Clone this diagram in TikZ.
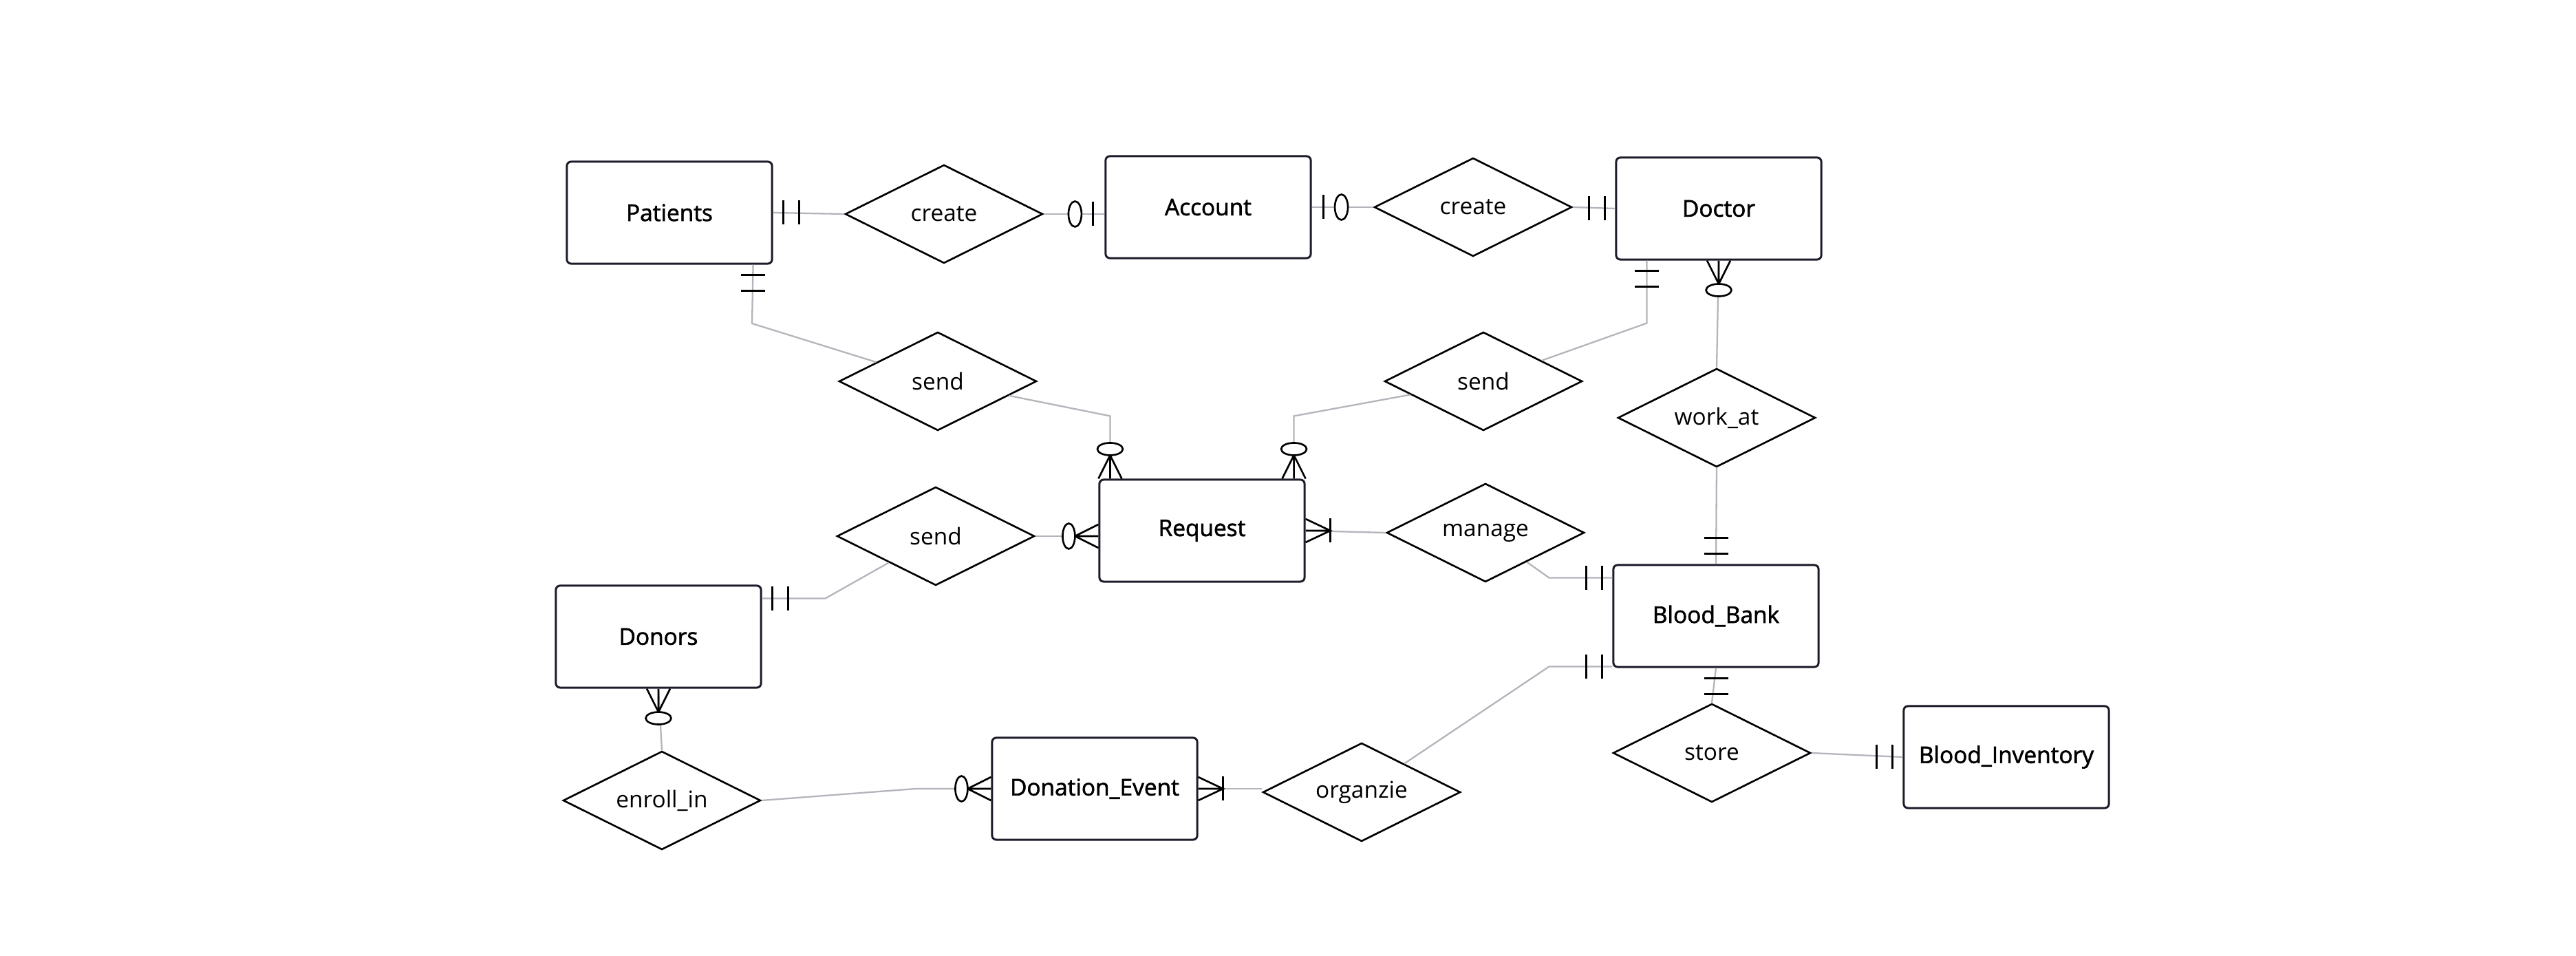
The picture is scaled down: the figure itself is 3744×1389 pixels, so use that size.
\documentclass[tikz,border=0pt]{standalone}
\usepackage{fontspec}
\setmainfont{Open Sans}
\newfontfamily\entityfont{Open Sans}[FakeBold=1.8]
\usetikzlibrary{shapes.geometric}
\usetikzlibrary{calc}

\definecolor{linkGray}{RGB}{180,180,188}
\definecolor{boxInk}{RGB}{28,28,42}

\tikzset{
  markStyle/.style={draw=black, line width=1.05pt},
  thinMark/.style={draw=black, line width=0.75pt},
  pics/oneOnly/.style={code={
    \draw[markStyle] (15,-17.5) -- (15,17.5);
    \draw[markStyle] (38,-17.5) -- (38,17.5);
  }},
  pics/zeroOne/.style={code={
    \draw[markStyle] (17,-17.5) -- (17,17.5);
    \draw[thinMark, fill=white] (43,0) ellipse [x radius=9.5, y radius=18.5];
  }},
  pics/zeroMany/.style={code={
    \draw[thinMark] (0,-17) -- (34,0) -- (0,17) (0,0) -- (34,0);
    \draw[thinMark, fill=white] (43,0) ellipse [x radius=9, y radius=18.5];
  }},
  pics/oneMany/.style={code={
    \draw[thinMark] (0,-17) -- (36,0) -- (0,17) (0,0) -- (36,0);
    \draw[markStyle] (36,-17.5) -- (36,17.5);
  }},
}

\begin{document}
\begin{tikzpicture}[x=0.01cm, y=-0.01cm]
	\tikzstyle{entityStyle}=[shape = rectangle, draw = boxInk, line width = 0.85pt, rounded corners = 0.06cm, fill = white, minimum width = 2.98cm, minimum height = 1.48cm, inner sep = 0pt, font = \fontsize{9.5pt}{11pt}\selectfont\entityfont]
	\tikzstyle{relationStyle}=[shape = diamond, aspect = 2, draw = black, line width = 0.75pt, fill = white, minimum width = 2.87cm, minimum height = 1.43cm, inner sep = 0pt, font = \fontsize{9.5pt}{11pt}\selectfont]
	\tikzstyle{linkStyle}=[draw = linkGray, line width = 0.65pt]
	\fill[white] (0,0) rectangle (3744,1389);
	\useasboundingbox (0,0) rectangle (3744,1389);
	% entities
	\node[entityStyle] (pat) at (973,309) {Patients};
	\node[entityStyle] (acc) at (1756,301) {Account};
	\node[entityStyle] (doc) at (2498,303) {Doctor};
	\node[entityStyle] (req) at (1747,771) {Request};
	\node[entityStyle] (don) at (957,925) {Donors};
	\node[entityStyle] (bb) at (2494,895) {Blood\_Bank};
	\node[entityStyle] (de) at (1591,1146) {Donation\_Event};
	\node[entityStyle] (bi) at (2916,1100) {Blood\_Inventory};
	% relationships
	\node[relationStyle] (createA) at (1372,311) {create};
	\node[relationStyle] (createB) at (2141,301) {create};
	\node[relationStyle] (sendP) at (1363,554) {send};
	\node[relationStyle] (sendD) at (2156,554) {send};
	\node[relationStyle] (sendR) at (1360,779) {send};
	\node[relationStyle] (manage) at (2159,774) {manage};
	\node[relationStyle] (workAt) at (2495,607) {work\_at};
	\node[relationStyle] (store) at (2488,1094) {store};
	\node[relationStyle] (enroll) at (962,1163) {enroll\_in};
	\node[relationStyle] (org) at (1979,1151) {organzie};
	% bends
	\coordinate (patFoot) at ($(pat.south east)+(-29,0)$);
	\coordinate (patBend) at (1093,470);
	\coordinate (reqTopL) at ($(req.north west)+(17,0)$);
	\coordinate (reqBendL) at ($(reqTopL)+(0,-91)$);
	\coordinate (reqTopR) at ($(req.north east)+(-17,0)$);
	\coordinate (reqBendR) at ($(reqTopR)+(0,-91)$);
	\coordinate (docFoot) at ($(doc.south west)+(46,0)$);
	\coordinate (docBend) at ($(docFoot)+(0,91)$);
	\coordinate (donSide) at ($(don.north east)+(0,20)$);
	\coordinate (donBend) at ($(donSide)+(92,0)$);
	\coordinate (bbUpper) at ($(bb.north west)+(0,20)$);
	\coordinate (bbBendU) at ($(bbUpper)+(-92,0)$);
	\coordinate (bbLower) at ($(bb.south west)+(0,-2)$);
	\coordinate (bbBendL) at ($(bbLower)+(-92,0)$);
	\coordinate (deBend) at ($(de.west)+(-110,0)$);
	% connectors
	\draw[linkStyle] (pat.east) -- (createA.west);
	\draw[linkStyle] (createA.east) -- (createA.east -| acc.west);
	\draw[linkStyle] (acc.east) -- (createB.west);
	\draw[linkStyle] (createB.east) -- (doc.west);
	\draw[linkStyle] (patFoot) -- (patBend) -- (sendP);
	\draw[linkStyle] (sendP) -- (reqBendL) -- (reqTopL);
	\draw[linkStyle] (docFoot) -- (docBend) -- (sendD);
	\draw[linkStyle] (sendD) -- (reqBendR) -- (reqTopR);
	\draw[linkStyle] (sendR.east) -- (sendR.east -| req.west);
	\draw[linkStyle] (donSide) -- (donBend) -- (sendR);
	\draw[linkStyle] (req.east) -- (manage.west);
	\draw[linkStyle] (manage) -- (bbBendU) -- (bbUpper);
	\draw[linkStyle] (doc.south) -- (workAt.north);
	\draw[linkStyle] (workAt.south) -- (bb.north);
	\draw[linkStyle] (bb.south) -- (store.north);
	\draw[linkStyle] (store.east) -- (bi.west);
	\draw[linkStyle] (org) -- (bbBendL) -- (bbLower);
	\draw[linkStyle] (de.east) -- (de.east -| org.west);
	\draw[linkStyle] (enroll.east) -- (deBend) -- (de.west);
	\draw[linkStyle] (don.south) -- (enroll.north);
	% cardinality marks
	\pic at (pat.east) {oneOnly};
	\pic[rotate=180] at (createA.east -| acc.west) {zeroOne};
	\pic at (acc.east) {zeroOne};
	\pic[rotate=180] at (doc.west) {oneOnly};
	\pic[rotate=-90] at (patFoot) {oneOnly};
	\pic[rotate=90] at (reqTopL) {zeroMany};
	\pic[rotate=-90] at (docFoot) {oneOnly};
	\pic[rotate=90] at (reqTopR) {zeroMany};
	\pic[rotate=180] at (sendR.east -| req.west) {zeroMany};
	\pic at (donSide) {oneOnly};
	\pic at (req.east) {oneMany};
	\pic[rotate=180] at (bbUpper) {oneOnly};
	\pic[rotate=-90] at (doc.south) {zeroMany};
	\pic[rotate=90] at (bb.north) {oneOnly};
	\pic[rotate=-90] at (bb.south) {oneOnly};
	\pic[rotate=180] at (bi.west) {oneOnly};
	\pic[rotate=180] at (bbLower) {oneOnly};
	\pic at (de.east) {oneMany};
	\pic[rotate=180] at (de.west) {zeroMany};
	\pic[rotate=-90] at (don.south) {zeroMany};
\end{tikzpicture}
\end{document}
